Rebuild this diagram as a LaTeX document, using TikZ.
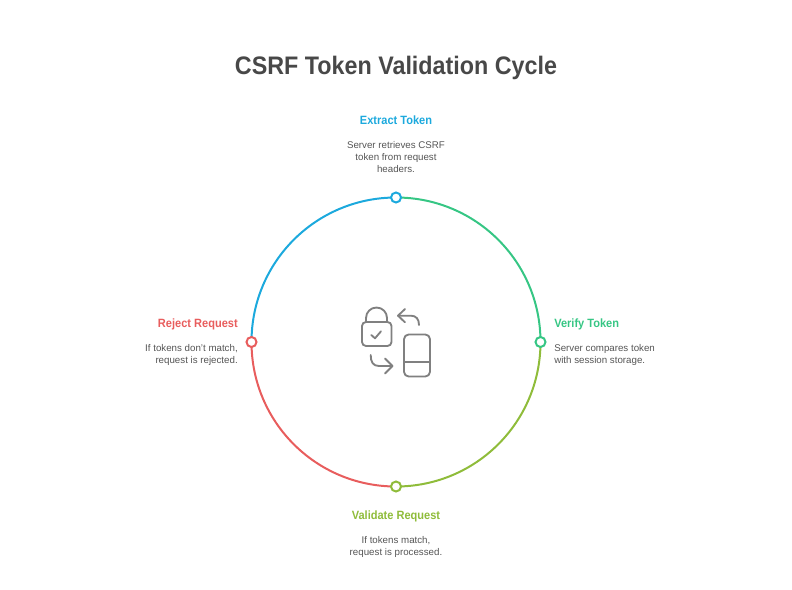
\documentclass[tikz,border=0pt]{standalone}
\usepackage{fontspec}
\setmainfont[BoldFeatures={FakeStretch=0.92}]{Liberation Sans}
\usetikzlibrary{positioning,backgrounds}
\definecolor{extractblue}{HTML}{1CA9DD}
\definecolor{verifygreen}{HTML}{36C684}
\definecolor{validatelime}{HTML}{8FBC3A}
\definecolor{rejectred}{HTML}{E85D5D}
\definecolor{titlegray}{HTML}{484848}
\definecolor{descgray}{HTML}{555555}
\definecolor{icongray}{HTML}{808080}
\begin{document}
\begin{tikzpicture}[x=0.75pt,y=-0.75pt,
  dot/.style = {circle, draw, fill=white, line width=1.5pt, inner sep=0pt, minimum size=7.5pt},
  ring/.style = {line width=1.5pt, bend left=45},
  head/.style = {font=\fontsize{9}{11}\selectfont\bfseries, inner sep=0pt},
  desc/.style = {font=\fontsize{7.3}{9}\selectfont, text=descgray, inner sep=0pt},
  icon/.style = {draw=icongray, line width=1.4pt, line cap=round, line join=round}]
  \useasboundingbox (0,0) rectangle (792,589);
  \node[font=\fontsize{19}{23}\selectfont\bfseries, text=titlegray, inner sep=0pt] (title) at (396,68) {CSRF Token Validation Cycle};
  % ring
  \node[dot, draw=extractblue] (extract) at (396,197.5) {};
  \node[dot, draw=verifygreen] (verify) at (540.5,342) {};
  \node[dot, draw=validatelime] (validate) at (396,486.5) {};
  \node[dot, draw=rejectred] (reject) at (251.5,342) {};
  \begin{scope}[on background layer]
    \draw[ring, verifygreen] (extract.center) to (verify.center);
    \draw[ring, validatelime] (verify.center) to (validate.center);
    \draw[ring, rejectred] (validate.center) to (reject.center);
    \draw[ring, extractblue] (reject.center) to (extract.center);
  \end{scope}
  % labels
  \node[head, text=extractblue] (extracthead) at (396,120.5) {Extract Token};
  \node[desc, align=center, below=12.5pt of extracthead.base, anchor=north] (extractdesc) {Server retrieves CSRF\\token from request\\headers.};
  \node[head, text=verifygreen, anchor=west] (verifyhead) at (554,324.5) {Verify Token};
  \node[desc, align=left, below=12.5pt of verifyhead.base west, anchor=north west] (verifydesc) {Server compares token\\with session storage.};
  \node[head, text=validatelime] (validatehead) at (396,516.5) {Validate Request};
  \node[desc, align=center, below=12.5pt of validatehead.base, anchor=north] (validatedesc) {If tokens match,\\request is processed.};
  \node[head, text=rejectred, anchor=east] (rejecthead) at (238,324.5) {Reject Request};
  \node[desc, align=right, below=12.5pt of rejecthead.base east, anchor=north east] (rejectdesc) {If tokens don't match,\\request is rejected.};
  % lock
  \draw[icon, rounded corners=3pt] (362,322) rectangle (391.5,346);
  \draw[icon] (366,322) -- (366,318) arc[start angle=180, end angle=360, x radius=10.5, y radius=10.5] -- (387,322);
  \draw[icon] (371.3,335) -- (375,338.3) -- (381,331.3);
  % phone
  \draw[icon, rounded corners=3.5pt] (404,334.5) rectangle (430,376.5);
  \draw[icon] (404,362) -- (430,362);
  % arrows
  \draw[icon] (419,325) .. controls (419,319) and (416,315.7) .. (411,315.7) -- (398,315.7);
  \draw[icon] (405,309) -- (398,315.7) -- (405,322.3);
  \draw[icon] (370.7,355) .. controls (370.7,362) and (373,366) .. (379,366) -- (392.5,366);
  \draw[icon] (385,358.5) -- (392.5,366) -- (385,373.5);
\end{tikzpicture}
\end{document}
